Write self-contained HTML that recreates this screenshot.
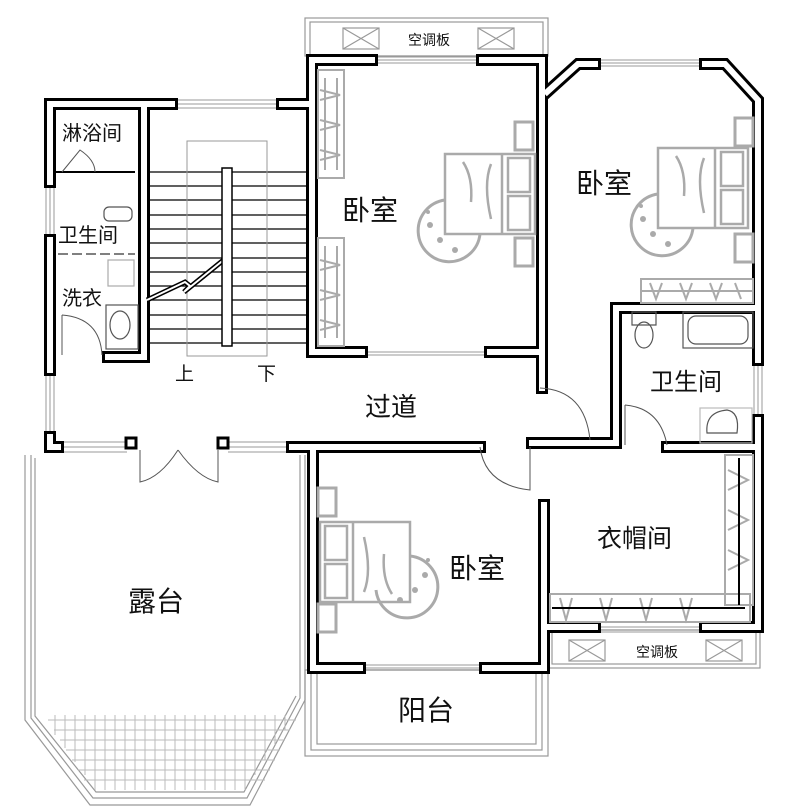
<!DOCTYPE html>
<html><head><meta charset="utf-8"><style>
html,body{margin:0;padding:0;background:#fff}
svg{display:block}
text{font-family:"Liberation Sans","Noto Sans CJK SC",sans-serif;fill:#111}
</style></head><body>
<svg width="789" height="811" viewBox="0 0 789 811" xmlns="http://www.w3.org/2000/svg">
<defs>
<g id="bed" stroke="#aaa" fill="none" stroke-width="2.5">
<rect x="0" y="0" width="90" height="80"/>
<line x1="57" y1="0" x2="57" y2="80"/>
<rect x="63" y="4" width="22" height="34"/>
<rect x="63" y="42" width="22" height="34"/>
<path d="M18,8 q10,15 8,40 M46,10 q-8,20 0,55"/>
</g>
<g id="wl">
<path d="M50,182 V104 H172"/>
<path d="M50,240 V370"/>
<path d="M50,437 V447 H58"/>
<path d="M144,104 V357 H108"/>
<path d="M282,104 H312 V60 H372"/>
<path d="M312,60 V352 H362"/>
<path d="M482,60 H542 V388"/>
<path d="M490,352 H542"/>
<path d="M595,64 H578 L547,92"/>
<path d="M705,64 H725 L758,100 V360"/>
<path d="M758,420 V627 H705"/>
<path d="M595,627 H544 V505"/>
<path d="M544,627 V668 H485"/>
<path d="M360,668 H313 V447 H292"/>
<path d="M313,447 H480"/>
<path d="M532,443 H616 V308 H758"/>
<path d="M667,447 H758"/>
</g>
</defs>
<rect width="789" height="811" fill="#fff"/>

<g fill="none" stroke="#999" stroke-width="1.2">
<rect x="305" y="18" width="243" height="38"/><rect x="310" y="22" width="233" height="34"/>
<rect x="343" y="28" width="36" height="21"/><path d="M343,28 L379,49 M379,28 L343,49"/>
<rect x="478" y="28" width="36" height="21"/><path d="M478,28 L514,49 M514,28 L478,49"/>
<rect x="548" y="630" width="212" height="38"/><rect x="552" y="630" width="204" height="34"/>
<rect x="569" y="640" width="36" height="21"/><path d="M569,640 L605,661 M605,640 L569,661"/>
<rect x="706" y="640" width="36" height="21"/><path d="M706,640 L742,661 M742,640 L706,661"/>
<rect x="305" y="670" width="243" height="86"/><rect x="311" y="670" width="231" height="80"/><rect x="317" y="670" width="219" height="74"/>
<path d="M305,455 V700 L250,805 H90 L25,720 V455"/>
<path d="M300,455 V698 L247,798 H93 L31,718 V455"/>
<path d="M35,458 V716 L96,792 H244 L296,696"/>
</g>
<g stroke="#bbb" stroke-width="1">
<path d="M48,720 H296 M54,730 H290 M60,740 H285 M66,750 H280 M72,760 H275 M78,770 H270 M84,780 H265"/>
<path d="M55,715 V735 M65,715 V748 M75,715 V762 M85,715 V775 M95,715 V790 M105,715 V790 M115,715 V790 M125,715 V790 M135,715 V790 M145,715 V790 M155,715 V790 M165,715 V790 M175,715 V790 M185,715 V790 M195,715 V790 M205,715 V790 M215,715 V790 M225,715 V790 M235,715 V790 M245,715 V790 M255,715 V775 M265,715 V760 M275,715 V745 M285,715 V730"/>
</g>

<g stroke="#999" stroke-width="1" fill="none">
<path d="M172,100 H282 M172,104 H282 M172,108 H282"/>
<path d="M372,57 H482 M372,60 H482 M372,63 H482"/>
<path d="M595,60 H705 M595,63 H705 M595,66 H705"/>
<path d="M46,182 V240 M50,182 V240 M54,182 V240"/>
<path d="M46,370 V437 M50,370 V437 M54,370 V437"/>
<path d="M754,360 V420 M758,360 V420 M762,360 V420"/>
<path d="M60,442 H127 M60,447 H127 M60,452 H127"/>
<path d="M228,442 H292 M228,447 H292 M228,452 H292"/>
<path d="M596,622 H705 M596,627 H705 M596,632 H705"/>
<path d="M362,352 H490 M362,355 H490"/>
<path d="M360,665 H485 M360,668 H485"/>
</g>

<g fill="none" stroke-linejoin="miter" stroke-linecap="square">
<use href="#wl" stroke="#000" stroke-width="12"/>
<use href="#wl" stroke="#fff" stroke-width="6"/>
</g>
<rect x="126" y="438" width="10" height="10" fill="#fff" stroke="#000" stroke-width="3"/>
<rect x="218" y="438" width="10" height="10" fill="#fff" stroke="#000" stroke-width="3"/>
<path d="M56,172 H135" stroke="#000" stroke-width="2"/>
<path d="M58,254 H135" stroke="#000" stroke-width="1" stroke-dasharray="10 4"/>

<g fill="none" stroke="#555" stroke-width="1">
<path d="M62,172 L80,150 Q95,160 95,172"/>
<path d="M62,315 Q100,318 102,355 M62,315 V355"/>
<path d="M140,450 V482 Q160,478 178,450 M218,450 V482 Q198,478 178,450"/>
<path d="M530,447 V490 Q485,485 480,447"/>
<path d="M540,388 Q585,390 590,440"/>
<path d="M625,405 Q660,408 667,445 M625,405 V445"/>
</g>

<g stroke="#000" stroke-width="1.3">
<path d="M147,172 H307 M147,186 H307 M147,200 H307 M147,215 H307 M147,229 H307 M147,243 H307 M147,258 H307 M147,272 H307 M147,286 H307 M147,300 H307 M147,315 H307 M147,329 H307 M147,343 H307"/>
</g>
<rect x="187" y="141" width="80" height="215" fill="none" stroke="#999" stroke-width="1"/>
<path d="M147,300 L185,282 L190,286 L184,292 L226,258" stroke="#000" stroke-width="5" fill="none"/>
<path d="M147,300 L185,282 L190,286 L184,292 L226,258" stroke="#fff" stroke-width="2" fill="none"/>
<rect x="222" y="168" width="10" height="178" fill="#fff" stroke="#000" stroke-width="1.5"/>

<g fill="none" stroke="#555" stroke-width="1.2">
<rect x="104" y="207" width="28" height="14" rx="5"/>
<rect x="108" y="260" width="26" height="26" stroke="#aaa"/>
<rect x="106" y="305" width="32" height="44"/><ellipse cx="120" cy="325" rx="10" ry="14"/>
<rect x="683" y="312" width="70" height="36"/><rect x="688" y="316" width="60" height="28" rx="8"/>
<path d="M632,312 H656 V325 H632Z"/><ellipse cx="644" cy="335" rx="9" ry="13"/>
<path d="M707,433 Q705,412 727,410 Q740,412 737,433 Z"/>
<rect x="700" y="408" width="52" height="35" stroke="#bbb"/>
</g>

<g stroke="#aaa" stroke-width="2" fill="none">
<rect x="318" y="70" width="26" height="108"/><rect x="318" y="238" width="26" height="108"/>
<path d="M325,78 V170 M337,78 V170 M325,246 V338 M337,246 V338"/>
<path d="M320,90 L340,95 L320,100 M320,120 L340,125 L320,130 M320,150 L340,155 L320,160 M320,260 L340,265 L320,270 M320,290 L340,295 L320,300 M320,320 L340,325 L320,330"/>
<rect x="641" y="279" width="112" height="24"/><path d="M641,291 H753 M650,283 L656,299 L662,283 M680,283 L686,299 L692,283 M710,283 L716,299 L722,283 M735,283 L741,299"/>
<rect x="725" y="455" width="28" height="150"/><path d="M728,470 L748,480 L728,490 M728,510 L748,520 L728,530 M728,550 L748,560 L728,570"/>
<rect x="550" y="594" width="200" height="28"/><path d="M560,598 L566,620 L572,598 M600,598 L606,620 L612,598 M640,598 L646,620 L652,598 M680,598 L686,620 L692,598"/>
</g>
<path d="M739,458 V605 M552,608 H745" stroke="#000" stroke-width="2"/>

<use href="#bed" x="445" y="154"/>
<use href="#bed" x="658" y="148"/>
<use href="#bed" transform="translate(410,602) rotate(180)"/>
<g stroke="#aaa" stroke-width="3" fill="none">
<path d="M445,200 A31,31 0 1,0 480,234"/>
<path d="M658,194 A31,31 0 1,0 693,228"/>
<path d="M410,556 A31,31 0 1,1 376,590"/>
<rect x="515" y="122" width="18" height="28"/><rect x="515" y="238" width="18" height="28"/>
<rect x="735" y="118" width="18" height="28"/><rect x="735" y="234" width="18" height="28"/>
<rect x="318" y="488" width="18" height="28"/><rect x="318" y="604" width="18" height="28"/>
</g>
<g fill="#aaa">
<circle cx="430" cy="225" r="3"/><circle cx="440" cy="240" r="3"/><circle cx="455" cy="250" r="3"/><circle cx="428" cy="212" r="2"/>
<circle cx="643" cy="219" r="3"/><circle cx="653" cy="234" r="3"/><circle cx="668" cy="244" r="3"/><circle cx="641" cy="206" r="2"/>
<circle cx="425" cy="575" r="3"/><circle cx="415" cy="590" r="3"/><circle cx="400" cy="600" r="3"/><circle cx="428" cy="560" r="2"/>
</g>

<text x="62" y="140" font-size="20">淋浴间</text>
<text x="58" y="242" font-size="20">卫生间</text>
<text x="62" y="305" font-size="20">洗衣</text>
<text x="175" y="380" font-size="19">上</text>
<text x="257" y="380" font-size="19">下</text>
<text x="342" y="220" font-size="28">卧室</text>
<text x="576" y="193" font-size="28">卧室</text>
<text x="365" y="416" font-size="26">过道</text>
<text x="650" y="390" font-size="24">卫生间</text>
<text x="597" y="547" font-size="25">衣帽间</text>
<text x="449" y="578" font-size="28">卧室</text>
<text x="128" y="611" font-size="28">露台</text>
<text x="398" y="720" font-size="28">阳台</text>
<text x="408" y="45" font-size="14" fill="#444">空调板</text>
<text x="636" y="657" font-size="14" fill="#444">空调板</text>
</svg>
</body></html>
